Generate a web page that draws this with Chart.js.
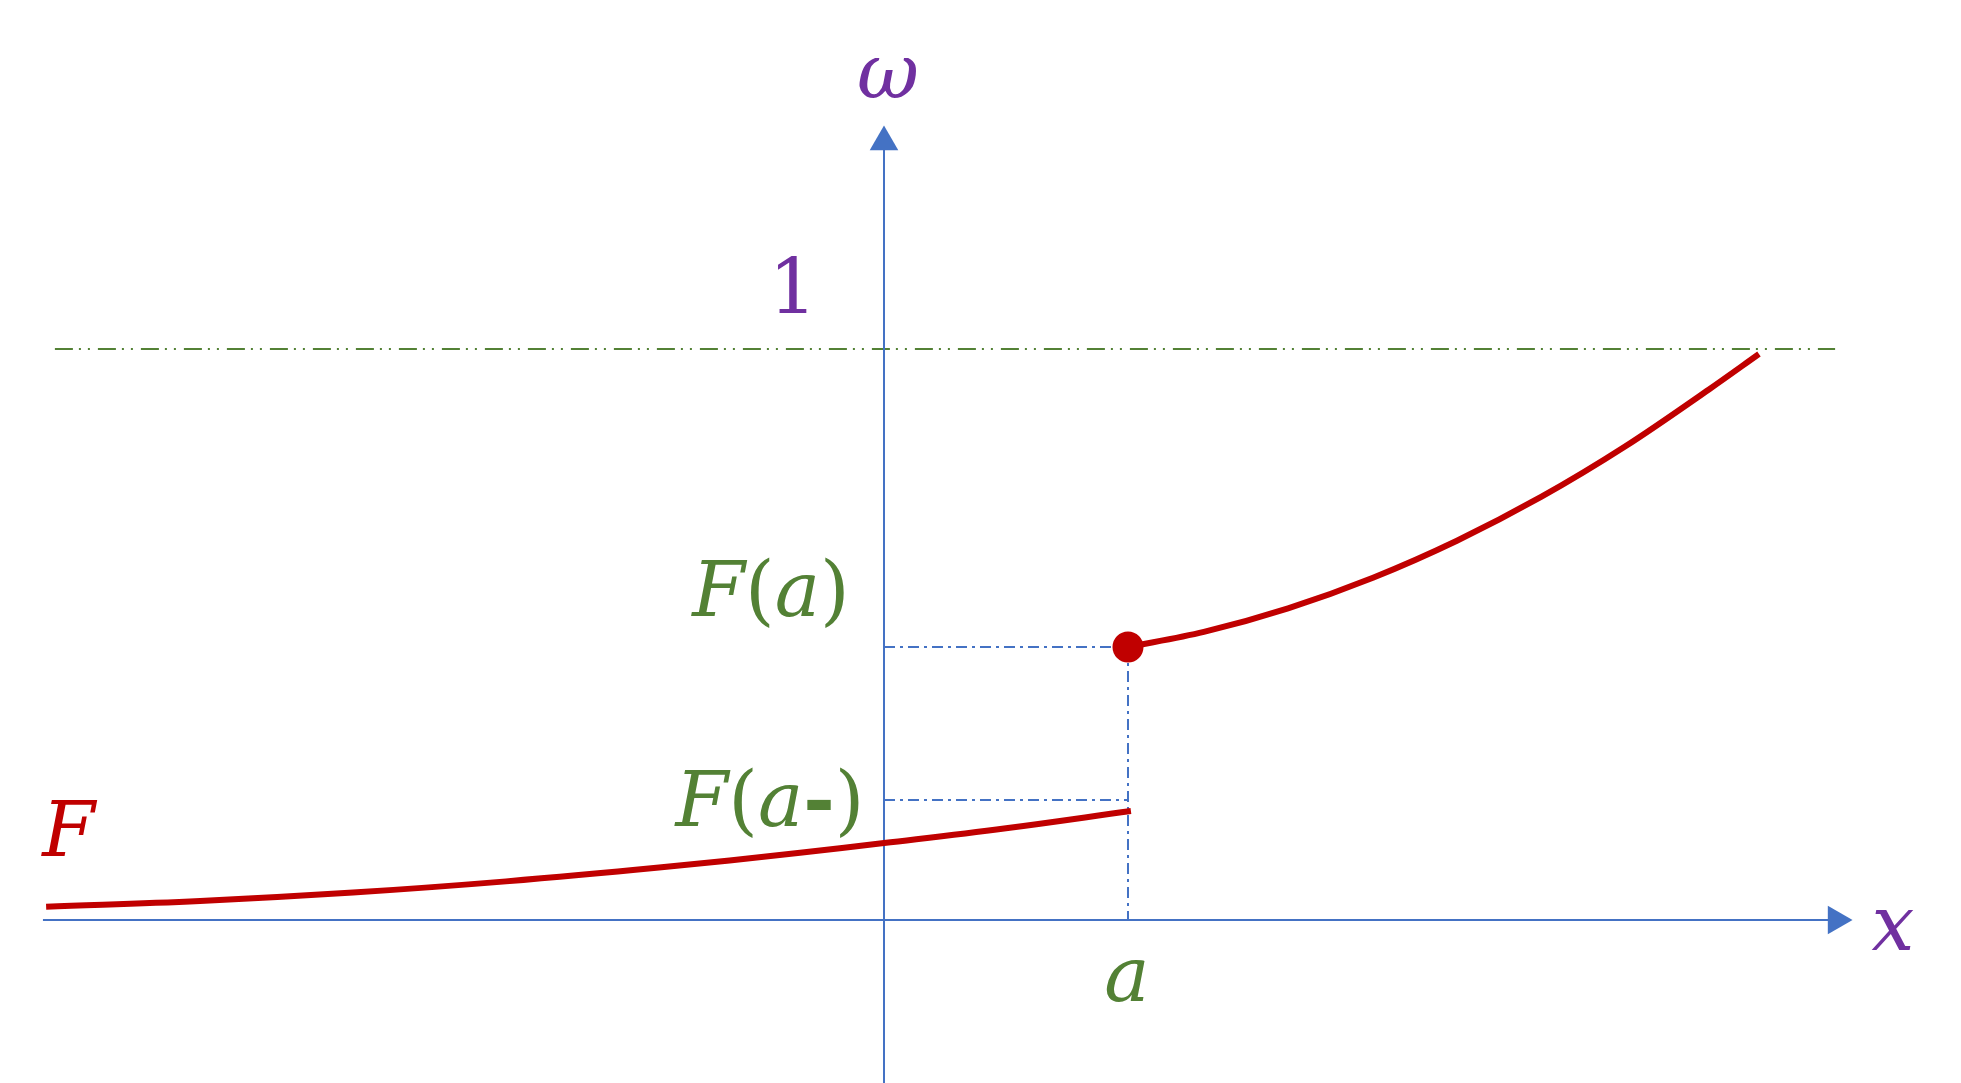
<!DOCTYPE html>
<html><head><meta charset="utf-8">
<script src="https://cdn.jsdelivr.net/npm/chart.js@4/dist/chart.umd.min.js"></script>
<style>html,body{margin:0;padding:0;background:#fff;overflow:hidden}canvas{display:block}</style>
</head><body>
<canvas id="c" width="1961" height="1083"></canvas>
<script>
// ---- data (chart units: a = 1 on x, level "1" on y) ----
const xRange = [-3.623, 4.414];
const yRange = [-0.2855, 1.6112];
const pointA = 1;
const valueFa = 0.478;
const valueFaMinus = 0.21;
const topLevel = 1;
const lowerX = [-3.434, -2.803, -2.176, -1.549, -0.922, -0.344, 0, 0.5, 1.012];
const lowerY = [0.0233, 0.0333, 0.048, 0.0676, 0.0918, 0.1177, 0.1347, 0.1607, 0.1909];
const upperX = [1.0, 1.311, 1.656, 2.004, 2.348, 2.693, 3.037, 3.381, 3.586];
const upperY = [0.478, 0.5047, 0.5459, 0.5995, 0.6643, 0.7408, 0.8291, 0.9291, 0.9912];
const xAxisExtent = [-3.447, 3.9];
const yAxisExtent = [-0.2855, 1.3625];
const topLineExtent = [-3.398, 3.898];
const xArrowAt = 3.902;
const yArrowAt = 1.3625;

const RED = '#C00000', BLUE = '#4472C4', GREEN = '#538135', PURPLE = '#7030A0';
const pts = (xs, ys) => xs.map((x, i) => ({x, y: ys[i]}));
const guideDash = [11, 5, 3, 5];

const datasets = [
  {data: pts(lowerX, lowerY), borderColor: RED, borderWidth: 6, pointRadius: 0, showLine: true, tension: 0.4, order: 1, borderCapStyle: 'butt'},
  {data: pts(upperX, upperY), borderColor: RED, borderWidth: 6, pointRadius: 0, showLine: true, cubicInterpolationMode: 'monotone', order: 1, borderCapStyle: 'butt'},
  {data: [{x: pointA, y: valueFa}], pointRadius: 15.5, pointBackgroundColor: RED, pointBorderWidth: 0, showLine: false, order: 0},
  {data: [{x: topLineExtent[0], y: topLevel}, {x: topLineExtent[1], y: topLevel}], borderColor: GREEN, borderWidth: 2, borderDash: [18, 6, 2, 7, 2, 8], pointRadius: 0, showLine: true, order: 5},
  {data: [{x: 0, y: valueFa}, {x: pointA, y: valueFa}], borderColor: BLUE, borderWidth: 2, borderDash: guideDash, pointRadius: 0, showLine: true, order: 4},
  {data: [{x: 0, y: valueFaMinus}, {x: pointA, y: valueFaMinus}], borderColor: BLUE, borderWidth: 2, borderDash: guideDash, pointRadius: 0, showLine: true, order: 4},
  {data: [{x: pointA, y: valueFa}, {x: pointA, y: 0}], borderColor: BLUE, borderWidth: 2, borderDash: guideDash, pointRadius: 0, showLine: true, order: 4},
  {data: [{x: xAxisExtent[0], y: 0}, {x: xAxisExtent[1], y: 0}], borderColor: BLUE, borderWidth: 2, pointRadius: 0, showLine: true, order: 3},
  {data: [{x: 0, y: yAxisExtent[0]}, {x: 0, y: yAxisExtent[1]}], borderColor: BLUE, borderWidth: 2, pointRadius: 0, showLine: true, order: 3},
  {data: [{x: xArrowAt, y: 0}], pointStyle: 'triangle', rotation: 90, pointRadius: 16.5, pointBackgroundColor: BLUE, pointBorderWidth: 0, showLine: false, order: 2},
  {data: [{x: 0, y: yArrowAt}], pointStyle: 'triangle', rotation: 0, pointRadius: 16.5, pointBackgroundColor: BLUE, pointBorderWidth: 0, showLine: false, order: 2}
];
datasets.forEach(d => { d.clip = false; });

// text labels: parts [text, style], anchored (center, baseline) in chart units
const FS = 76, FAM = '"DejaVu Serif"';
const textLabels = [
  {parts: [['ω', 'i']], x: 0.016, y: 1.44, color: PURPLE},
  {parts: [['1', 'r']], x: -0.373, y: 1.063, color: PURPLE},
  {parts: [['F', 'i'], ['(', 'r'], ['a', 'i'], [')', 'r']], x: -0.463, y: 0.533, color: GREEN},
  {parts: [['F', 'i'], ['(', 'r'], ['a', 'i'], ['-', 'b'], [')', 'r']], x: -0.467, y: 0.165, color: GREEN},
  {parts: [['F', 'i']], x: -3.342, y: 0.112, color: RED},
  {parts: [['x', 'i']], x: 4.135, y: -0.052, color: PURPLE},
  {parts: [['a', 'i']], x: 0.996, y: -0.142, color: GREEN}
];
const fontFor = s => (s === 'i' ? 'italic ' : s === 'b' ? 'bold ' : '') + FS + 'px ' + FAM;

const labelPlugin = {
  id: 'mathLabels',
  afterDatasetsDraw(chart) {
    const ctx = chart.ctx, xs = chart.scales.x, ys = chart.scales.y;
    ctx.save();
    ctx.textBaseline = 'alphabetic';
    ctx.textAlign = 'left';
    for (const l of textLabels) {
      let total = 0;
      const widths = l.parts.map(([t, s]) => { ctx.font = fontFor(s); const w = ctx.measureText(t).width; total += w; return w; });
      let px = xs.getPixelForValue(l.x) - total / 2;
      const py = ys.getPixelForValue(l.y);
      ctx.fillStyle = l.color;
      l.parts.forEach(([t, s], i) => { ctx.font = fontFor(s); ctx.fillText(t, px, py); px += widths[i]; });
    }
    ctx.restore();
  }
};

new Chart(document.getElementById('c'), {
  type: 'scatter',
  data: {datasets},
  options: {
    responsive: false,
    animation: false,
    devicePixelRatio: 1,
    layout: {padding: 0, autoPadding: false},
    plugins: {legend: {display: false}, tooltip: {enabled: false}},
    scales: {
      x: {type: 'linear', min: xRange[0], max: xRange[1], display: false},
      y: {type: 'linear', min: yRange[0], max: yRange[1], display: false}
    }
  },
  plugins: [labelPlugin]
});
</script>
</body></html>
